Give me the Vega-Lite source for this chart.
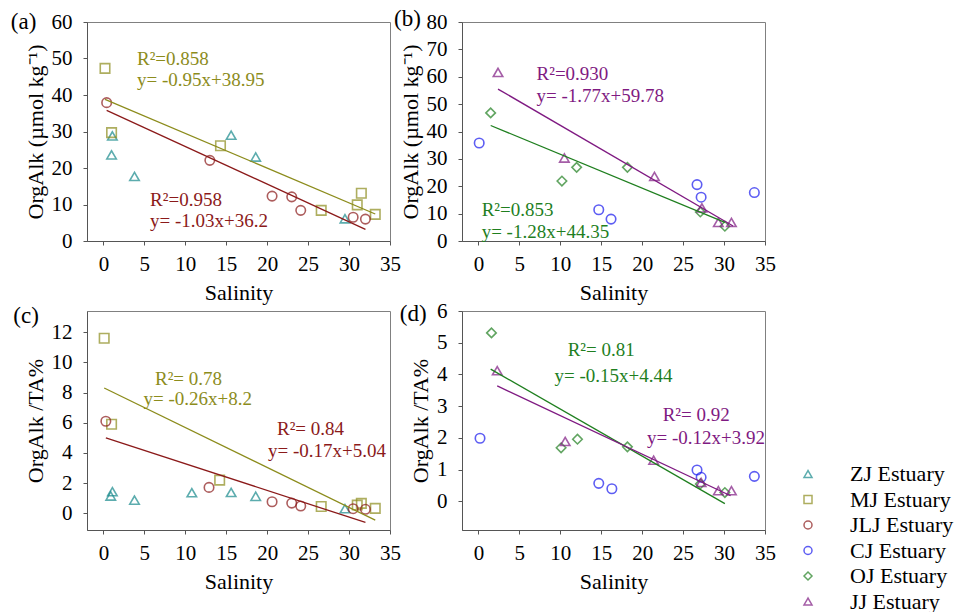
{
  "$schema": "https://vega.github.io/schema/vega-lite/v6.json",
  "padding": {"left": 10, "top": 7, "right": 5, "bottom": 0},
  "background": "white",
  "config": {
    "font": "Liberation Serif",
    "view": {"stroke": "#808080", "strokeWidth": 1},
    "axis": {
      "labelFont": "Liberation Serif", "labelFontSize": 21, "labelColor": "black",
      "titleFont": "Liberation Serif", "titleFontSize": 22, "titleFontWeight": "normal", "titleColor": "black",
      "domainColor": "#555555", "tickColor": "#555555", "tickSize": 4, "grid": false
    },
    "axisX": {"labelPadding": 8, "titlePadding": 8, "labelFlush": false},
    "axisY": {"labelPadding": 11, "titlePadding": 4},
    "legend": {"labelFont": "Liberation Serif", "labelFontSize": 22, "labelColor": "black"}
  },
  "datasets": {
    "a_pts": [
      {"Estuary": "ZJ Estuary", "Salinity": 1.1, "Value": 28.8},
      {"Estuary": "ZJ Estuary", "Salinity": 1.0, "Value": 23.6},
      {"Estuary": "ZJ Estuary", "Salinity": 3.8, "Value": 17.7},
      {"Estuary": "ZJ Estuary", "Salinity": 15.6, "Value": 29.0},
      {"Estuary": "ZJ Estuary", "Salinity": 18.6, "Value": 23.0},
      {"Estuary": "ZJ Estuary", "Salinity": 29.5, "Value": 6.1},
      {"Estuary": "MJ Estuary", "Salinity": 0.2, "Value": 47.3},
      {"Estuary": "MJ Estuary", "Salinity": 1.0, "Value": 29.7},
      {"Estuary": "MJ Estuary", "Salinity": 14.3, "Value": 26.1},
      {"Estuary": "MJ Estuary", "Salinity": 26.6, "Value": 8.4},
      {"Estuary": "MJ Estuary", "Salinity": 31.0, "Value": 9.9},
      {"Estuary": "MJ Estuary", "Salinity": 31.5, "Value": 13.1},
      {"Estuary": "MJ Estuary", "Salinity": 33.2, "Value": 7.3},
      {"Estuary": "JLJ Estuary", "Salinity": 0.4, "Value": 37.9},
      {"Estuary": "JLJ Estuary", "Salinity": 13.0, "Value": 22.1},
      {"Estuary": "JLJ Estuary", "Salinity": 20.6, "Value": 12.3},
      {"Estuary": "JLJ Estuary", "Salinity": 23.0, "Value": 12.1},
      {"Estuary": "JLJ Estuary", "Salinity": 24.1, "Value": 8.4},
      {"Estuary": "JLJ Estuary", "Salinity": 30.5, "Value": 6.5},
      {"Estuary": "JLJ Estuary", "Salinity": 32.0, "Value": 6.0}
    ],
    "a_lines": [
      {"Estuary": "MJ Estuary", "Salinity": 0.2, "Value": 38.8},
      {"Estuary": "MJ Estuary", "Salinity": 33.2, "Value": 7.4},
      {"Estuary": "JLJ Estuary", "Salinity": 0.4, "Value": 35.8},
      {"Estuary": "JLJ Estuary", "Salinity": 32.0, "Value": 3.2}
    ],
    "a_text": [
      {"Estuary": "MJ Estuary", "Salinity": 4.1, "Value": 49.9, "label": "R²=0.858"},
      {"Estuary": "MJ Estuary", "Salinity": 4.1, "Value": 44.0, "label": "y= -0.95x+38.95"},
      {"Estuary": "JLJ Estuary", "Salinity": 5.7, "Value": 11.2, "label": "R²=0.958"},
      {"Estuary": "JLJ Estuary", "Salinity": 5.7, "Value": 5.4, "label": "y= -1.03x+36.2"}
    ],
    "a_tag": [{"Salinity": -11.3, "Value": 60, "label": "(a)"}],
    "b_pts": [
      {"Estuary": "CJ Estuary", "Salinity": 0.1, "Value": 35.8},
      {"Estuary": "CJ Estuary", "Salinity": 14.7, "Value": 11.4},
      {"Estuary": "CJ Estuary", "Salinity": 16.2, "Value": 8.0},
      {"Estuary": "CJ Estuary", "Salinity": 26.7, "Value": 20.6},
      {"Estuary": "CJ Estuary", "Salinity": 27.2, "Value": 16.0},
      {"Estuary": "CJ Estuary", "Salinity": 33.7, "Value": 17.7},
      {"Estuary": "OJ Estuary", "Salinity": 1.5, "Value": 46.8},
      {"Estuary": "OJ Estuary", "Salinity": 10.2, "Value": 21.9},
      {"Estuary": "OJ Estuary", "Salinity": 12.0, "Value": 26.9},
      {"Estuary": "OJ Estuary", "Salinity": 18.2, "Value": 26.9},
      {"Estuary": "OJ Estuary", "Salinity": 27.1, "Value": 10.6},
      {"Estuary": "OJ Estuary", "Salinity": 30.1, "Value": 5.4},
      {"Estuary": "JJ Estuary", "Salinity": 2.4, "Value": 61.6},
      {"Estuary": "JJ Estuary", "Salinity": 10.5, "Value": 30.3},
      {"Estuary": "JJ Estuary", "Salinity": 21.5, "Value": 23.6},
      {"Estuary": "JJ Estuary", "Salinity": 27.3, "Value": 12.1},
      {"Estuary": "JJ Estuary", "Salinity": 29.3, "Value": 6.8},
      {"Estuary": "JJ Estuary", "Salinity": 30.9, "Value": 6.8}
    ],
    "b_lines": [
      {"Estuary": "JJ Estuary", "Salinity": 2.4, "Value": 55.5},
      {"Estuary": "JJ Estuary", "Salinity": 31.1, "Value": 5.5},
      {"Estuary": "OJ Estuary", "Salinity": 1.5, "Value": 42.2},
      {"Estuary": "OJ Estuary", "Salinity": 30.1, "Value": 6.8}
    ],
    "b_text": [
      {"Estuary": "JJ Estuary", "Salinity": 7.1, "Value": 60.9, "label": "R²=0.930"},
      {"Estuary": "JJ Estuary", "Salinity": 7.1, "Value": 52.8, "label": "y= -1.77x+59.78"},
      {"Estuary": "OJ Estuary", "Salinity": 0.4, "Value": 11.4, "label": "R²=0.853"},
      {"Estuary": "OJ Estuary", "Salinity": 0.4, "Value": 3.3, "label": "y= -1.28x+44.35"}
    ],
    "b_tag": [{"Salinity": -10.3, "Value": 81, "label": "(b)"}],
    "c_pts": [
      {"Estuary": "ZJ Estuary", "Salinity": 1.1, "Value": 1.44},
      {"Estuary": "ZJ Estuary", "Salinity": 0.9, "Value": 1.15},
      {"Estuary": "ZJ Estuary", "Salinity": 3.8, "Value": 0.88},
      {"Estuary": "ZJ Estuary", "Salinity": 10.8, "Value": 1.37},
      {"Estuary": "ZJ Estuary", "Salinity": 15.6, "Value": 1.39},
      {"Estuary": "ZJ Estuary", "Salinity": 18.6, "Value": 1.13},
      {"Estuary": "ZJ Estuary", "Salinity": 29.5, "Value": 0.31},
      {"Estuary": "MJ Estuary", "Salinity": 0.1, "Value": 11.6},
      {"Estuary": "MJ Estuary", "Salinity": 1.0, "Value": 5.9},
      {"Estuary": "MJ Estuary", "Salinity": 14.2, "Value": 2.2},
      {"Estuary": "MJ Estuary", "Salinity": 26.6, "Value": 0.46},
      {"Estuary": "MJ Estuary", "Salinity": 31.0, "Value": 0.55},
      {"Estuary": "MJ Estuary", "Salinity": 31.5, "Value": 0.66},
      {"Estuary": "MJ Estuary", "Salinity": 33.2, "Value": 0.33},
      {"Estuary": "JLJ Estuary", "Salinity": 0.3, "Value": 6.1},
      {"Estuary": "JLJ Estuary", "Salinity": 12.9, "Value": 1.72},
      {"Estuary": "JLJ Estuary", "Salinity": 20.6, "Value": 0.77},
      {"Estuary": "JLJ Estuary", "Salinity": 23.0, "Value": 0.68},
      {"Estuary": "JLJ Estuary", "Salinity": 24.1, "Value": 0.49},
      {"Estuary": "JLJ Estuary", "Salinity": 30.5, "Value": 0.31},
      {"Estuary": "JLJ Estuary", "Salinity": 32.0, "Value": 0.27}
    ],
    "c_lines": [
      {"Estuary": "MJ Estuary", "Salinity": 0.1, "Value": 8.3},
      {"Estuary": "MJ Estuary", "Salinity": 33.2, "Value": -0.45},
      {"Estuary": "JLJ Estuary", "Salinity": 0.3, "Value": 5.0},
      {"Estuary": "JLJ Estuary", "Salinity": 32.0, "Value": -0.6}
    ],
    "c_text": [
      {"Estuary": "MJ Estuary", "Salinity": 6.3, "Value": 8.9, "label": "R²= 0.78"},
      {"Estuary": "MJ Estuary", "Salinity": 4.9, "Value": 7.6, "label": "y= -0.26x+8.2"},
      {"Estuary": "JLJ Estuary", "Salinity": 21.2, "Value": 5.6, "label": "R²= 0.84"},
      {"Estuary": "JLJ Estuary", "Salinity": 20.1, "Value": 4.1, "label": "y= -0.17x+5.04"}
    ],
    "c_tag": [{"Salinity": -11.0, "Value": 13.1, "label": "(c)"}],
    "d_pts": [
      {"Estuary": "CJ Estuary", "Salinity": 0.2, "Value": 1.99},
      {"Estuary": "CJ Estuary", "Salinity": 14.7, "Value": 0.57},
      {"Estuary": "CJ Estuary", "Salinity": 16.3, "Value": 0.40},
      {"Estuary": "CJ Estuary", "Salinity": 26.7, "Value": 0.99},
      {"Estuary": "CJ Estuary", "Salinity": 27.2, "Value": 0.76},
      {"Estuary": "CJ Estuary", "Salinity": 33.7, "Value": 0.79},
      {"Estuary": "OJ Estuary", "Salinity": 1.6, "Value": 5.31},
      {"Estuary": "OJ Estuary", "Salinity": 10.1, "Value": 1.69},
      {"Estuary": "OJ Estuary", "Salinity": 12.1, "Value": 1.96},
      {"Estuary": "OJ Estuary", "Salinity": 18.2, "Value": 1.72},
      {"Estuary": "OJ Estuary", "Salinity": 27.1, "Value": 0.55},
      {"Estuary": "OJ Estuary", "Salinity": 30.1, "Value": 0.28},
      {"Estuary": "JJ Estuary", "Salinity": 2.3, "Value": 4.12},
      {"Estuary": "JJ Estuary", "Salinity": 10.6, "Value": 1.89},
      {"Estuary": "JJ Estuary", "Salinity": 21.4, "Value": 1.3},
      {"Estuary": "JJ Estuary", "Salinity": 27.2, "Value": 0.6},
      {"Estuary": "JJ Estuary", "Salinity": 29.3, "Value": 0.34},
      {"Estuary": "JJ Estuary", "Salinity": 30.9, "Value": 0.34}
    ],
    "d_lines": [
      {"Estuary": "OJ Estuary", "Salinity": 1.5, "Value": 4.17},
      {"Estuary": "OJ Estuary", "Salinity": 30.1, "Value": -0.07},
      {"Estuary": "JJ Estuary", "Salinity": 2.3, "Value": 3.64},
      {"Estuary": "JJ Estuary", "Salinity": 30.8, "Value": 0.18}
    ],
    "d_text": [
      {"Estuary": "OJ Estuary", "Salinity": 10.9, "Value": 4.78, "label": "R²= 0.81"},
      {"Estuary": "OJ Estuary", "Salinity": 9.3, "Value": 3.96, "label": "y= -0.15x+4.44"},
      {"Estuary": "JJ Estuary", "Salinity": 22.5, "Value": 2.72, "label": "R²= 0.92"},
      {"Estuary": "JJ Estuary", "Salinity": 20.6, "Value": 1.99, "label": "y= -0.12x+3.92"}
    ],
    "d_tag": [{"Salinity": -9.6, "Value": 5.9, "label": "(d)"}]
  },
  "bounds": "flush",
  "columns": 2,
  "spacing": {"row": 70, "column": 72},
  "concat": [
    {
      "width": 303, "height": 219,
      "encoding": {
        "x": {"field": "Salinity", "type": "quantitative", "title": "Salinity", "scale": {"domain": [-2, 35], "nice": false, "zero": false},
          "axis": {"values": [0, 5, 10, 15, 20, 25, 30, 35], "labelFont": "Liberation Serif", "titleFont": "Liberation Serif"}},
        "y": {"field": "Value", "type": "quantitative", "title": "OrgAlk (µmol kg⁻¹)", "scale": {"domain": [0, 60], "nice": false, "zero": false},
          "axis": {"values": [0, 10, 20, 30, 40, 50, 60], "labelFont": "Liberation Serif", "titleFont": "Liberation Serif"}}
      },
      "layer": [
        {"data": {"name": "a_pts"}, "mark": {"type": "point", "filled": false, "size": 90, "strokeWidth": 1.6},
         "encoding": {
           "color": {"field": "Estuary", "type": "nominal", "title": null,
             "scale": {"domain": ["ZJ Estuary", "MJ Estuary", "JLJ Estuary", "CJ Estuary", "OJ Estuary", "JJ Estuary"], "range": ["#188a8c", "#8c8c1c", "#8b1a1a", "#1a1aef", "#1f7f1f", "#7f1a82"]},
             "legend": {"orient": "none", "legendX": 710, "legendY": 441, "symbolSize": 64, "symbolStrokeWidth": 1.5, "rowPadding": 3.5, "labelOffset": 31, "padding": 0, "labelFont": "Liberation Serif"}},
           "shape": {"field": "Estuary", "type": "nominal", "title": null,
             "scale": {"domain": ["ZJ Estuary", "MJ Estuary", "JLJ Estuary", "CJ Estuary", "OJ Estuary", "JJ Estuary"], "range": ["triangle-up", "square", "circle", "circle", "diamond", "triangle-up"]},
             "legend": {"orient": "none", "legendX": 710, "legendY": 441, "symbolSize": 64, "symbolStrokeWidth": 1.5, "rowPadding": 3.5, "labelOffset": 31, "padding": 0, "labelFont": "Liberation Serif"}}
         }},
        {"data": {"name": "a_lines"}, "mark": {"type": "line", "strokeWidth": 1.3},
         "encoding": {"stroke": {"field": "Estuary", "type": "nominal", "legend": null,
           "scale": {"domain": ["MJ Estuary", "JLJ Estuary", "OJ Estuary", "JJ Estuary"], "range": ["#8c8c1c", "#8b1a1a", "#1f7f1f", "#7f1a82"]}}}},
        {"data": {"name": "a_text"}, "mark": {"type": "text", "align": "left", "baseline": "middle", "fontSize": 19, "font": "Liberation Serif"},
         "encoding": {"text": {"field": "label"}, "fill": {"field": "Estuary", "type": "nominal", "legend": null,
           "scale": {"domain": ["MJ Estuary", "JLJ Estuary", "OJ Estuary", "JJ Estuary"], "range": ["#8c8c1c", "#8b1a1a", "#1f7f1f", "#7f1a82"]}}}},
        {"data": {"name": "a_tag"}, "mark": {"type": "text", "align": "left", "baseline": "middle", "fontSize": 23, "font": "Liberation Serif", "color": "black"},
         "encoding": {"text": {"field": "label"}}}
      ]
    },
    {
      "width": 303, "height": 219,
      "encoding": {
        "x": {"field": "Salinity", "type": "quantitative", "title": "Salinity", "scale": {"domain": [-2, 35], "nice": false, "zero": false},
          "axis": {"values": [0, 5, 10, 15, 20, 25, 30, 35], "labelFont": "Liberation Serif", "titleFont": "Liberation Serif"}},
        "y": {"field": "Value", "type": "quantitative", "title": "OrgAlk (µmol kg⁻¹)", "scale": {"domain": [0, 80], "nice": false, "zero": false},
          "axis": {"values": [0, 10, 20, 30, 40, 50, 60, 70, 80], "labelFont": "Liberation Serif", "titleFont": "Liberation Serif"}}
      },
      "layer": [
        {"data": {"name": "b_pts"}, "mark": {"type": "point", "filled": false, "size": 90, "strokeWidth": 1.6},
         "encoding": {"color": {"field": "Estuary", "type": "nominal", "title": null, "legend": {}}, "shape": {"field": "Estuary", "type": "nominal", "title": null, "legend": {}}}},
        {"data": {"name": "b_lines"}, "mark": {"type": "line", "strokeWidth": 1.3}, "encoding": {"stroke": {"field": "Estuary", "type": "nominal", "legend": null}}},
        {"data": {"name": "b_text"}, "mark": {"type": "text", "align": "left", "baseline": "middle", "fontSize": 19, "font": "Liberation Serif"},
         "encoding": {"text": {"field": "label"}, "fill": {"field": "Estuary", "type": "nominal", "legend": null}}},
        {"data": {"name": "b_tag"}, "mark": {"type": "text", "align": "left", "baseline": "middle", "fontSize": 23, "font": "Liberation Serif", "color": "black"},
         "encoding": {"text": {"field": "label"}}}
      ]
    },
    {
      "width": 303, "height": 219,
      "encoding": {
        "x": {"field": "Salinity", "type": "quantitative", "title": "Salinity", "scale": {"domain": [-2, 35], "nice": false, "zero": false},
          "axis": {"values": [0, 5, 10, 15, 20, 25, 30, 35], "labelFont": "Liberation Serif", "titleFont": "Liberation Serif"}},
        "y": {"field": "Value", "type": "quantitative", "title": "OrgAlk /TA%", "scale": {"domain": [-1.1, 13.4], "nice": false, "zero": false},
          "axis": {"values": [0, 2, 4, 6, 8, 10, 12], "labelFont": "Liberation Serif", "titleFont": "Liberation Serif"}}
      },
      "layer": [
        {"data": {"name": "c_pts"}, "mark": {"type": "point", "filled": false, "size": 90, "strokeWidth": 1.6},
         "encoding": {"color": {"field": "Estuary", "type": "nominal", "title": null, "legend": {}}, "shape": {"field": "Estuary", "type": "nominal", "title": null, "legend": {}}}},
        {"data": {"name": "c_lines"}, "mark": {"type": "line", "strokeWidth": 1.3}, "encoding": {"stroke": {"field": "Estuary", "type": "nominal", "legend": null}}},
        {"data": {"name": "c_text"}, "mark": {"type": "text", "align": "left", "baseline": "middle", "fontSize": 19, "font": "Liberation Serif"},
         "encoding": {"text": {"field": "label"}, "fill": {"field": "Estuary", "type": "nominal", "legend": null}}},
        {"data": {"name": "c_tag"}, "mark": {"type": "text", "align": "left", "baseline": "middle", "fontSize": 23, "font": "Liberation Serif", "color": "black"},
         "encoding": {"text": {"field": "label"}}}
      ]
    },
    {
      "width": 303, "height": 219,
      "encoding": {
        "x": {"field": "Salinity", "type": "quantitative", "title": "Salinity", "scale": {"domain": [-2, 35], "nice": false, "zero": false},
          "axis": {"values": [0, 5, 10, 15, 20, 25, 30, 35], "labelFont": "Liberation Serif", "titleFont": "Liberation Serif"}},
        "y": {"field": "Value", "type": "quantitative", "title": "OrgAlk /TA%", "scale": {"domain": [-0.9, 6], "nice": false, "zero": false},
          "axis": {"values": [0, 1, 2, 3, 4, 5, 6], "labelFont": "Liberation Serif", "titleFont": "Liberation Serif"}}
      },
      "layer": [
        {"data": {"name": "d_pts"}, "mark": {"type": "point", "filled": false, "size": 90, "strokeWidth": 1.6},
         "encoding": {"color": {"field": "Estuary", "type": "nominal", "title": null, "legend": {}}, "shape": {"field": "Estuary", "type": "nominal", "title": null, "legend": {}}}},
        {"data": {"name": "d_lines"}, "mark": {"type": "line", "strokeWidth": 1.3}, "encoding": {"stroke": {"field": "Estuary", "type": "nominal", "legend": null}}},
        {"data": {"name": "d_text"}, "mark": {"type": "text", "align": "left", "baseline": "middle", "fontSize": 19, "font": "Liberation Serif"},
         "encoding": {"text": {"field": "label"}, "fill": {"field": "Estuary", "type": "nominal", "legend": null}}},
        {"data": {"name": "d_tag"}, "mark": {"type": "text", "align": "left", "baseline": "middle", "fontSize": 23, "font": "Liberation Serif", "color": "black"},
         "encoding": {"text": {"field": "label"}}}
      ]
    }
  ]
}
